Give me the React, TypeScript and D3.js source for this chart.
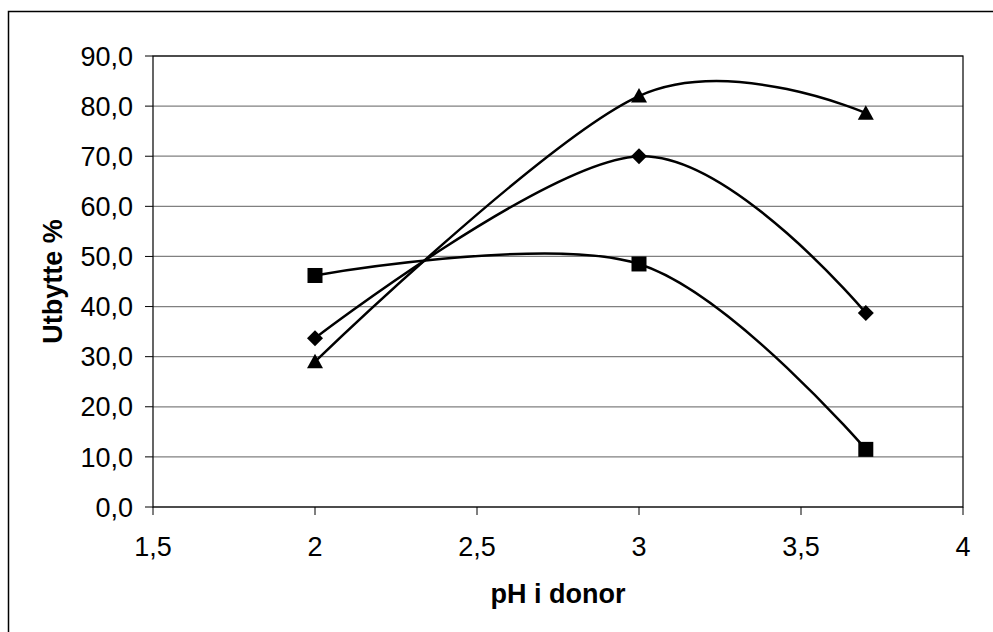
import React from "react";
import * as d3 from "d3";

const xValues = [2, 3, 3.7];
const seriesDiamond = [33.7, 70.0, 38.7];
const seriesSquare = [46.2, 48.5, 11.5];
const seriesTriangle = [29.0, 82.0, 78.6];
const yTicks = [0, 10, 20, 30, 40, 50, 60, 70, 80, 90];
const xTicks = [1.5, 2, 2.5, 3, 3.5, 4];
const xTitle = "pH i donor";
const yTitle = "Utbytte %";

const W = 993;
const H = 632;
const L = 153, R = 963, T = 56, B = 507;

const fmtY = (v: number) => v.toFixed(1).replace(".", ",");
const fmtX = (v: number) => String(v).replace(".", ",");

export default function App() {
  const x = d3.scaleLinear().domain([1.5, 4]).range([L, R]);
  const y = d3.scaleLinear().domain([0, 90]).range([B, T]);
  const line = d3
    .line<number>()
    .x((_, i) => x(xValues[i]))
    .y((d) => y(d))
    .curve(d3.curveCardinal.tension(0));

  const series = [
    { name: "diamond", values: seriesDiamond },
    { name: "square", values: seriesSquare },
    { name: "triangle", values: seriesTriangle },
  ];

  const marker = (kind: string, cx: number, cy: number, key: string) => {
    if (kind === "square") {
      return <rect key={key} x={cx - 7.5} y={cy - 7.5} width={15} height={15} fill="#000" />;
    }
    if (kind === "diamond") {
      const r = 8;
      return (
        <path key={key} d={`M${cx},${cy - r}L${cx + r},${cy}L${cx},${cy + r}L${cx - r},${cy}Z`} fill="#000" />
      );
    }
    return (
      <path key={key} d={`M${cx},${cy - 8}L${cx + 8},${cy + 6.5}L${cx - 8},${cy + 6.5}Z`} fill="#000" />
    );
  };

  return (
    <svg width={W} height={H} style={{ position: "absolute", left: 0, top: 0, background: "#fff" }}
      fontFamily="'Liberation Sans', Arial, sans-serif">
      <rect x={0} y={0} width={W} height={H} fill="#fff" />
      <rect x={8.5} y={11.5} width={1100} height={800} fill="none" stroke="#000" strokeWidth={1.5} />
      {yTicks.map((t) => (
        <g key={"y" + t}>
          <line x1={L} x2={R} y1={y(t)} y2={y(t)} stroke="#808080" strokeWidth={1.2} />
          <line x1={L - 8} x2={L} y1={y(t)} y2={y(t)} stroke="#000" strokeWidth={1} />
          <text x={133} y={y(t)} dy="0.36em" textAnchor="end" fontSize={27} fill="#000">
            {fmtY(t)}
          </text>
        </g>
      ))}
      {xTicks.map((t) => (
        <g key={"x" + t}>
          <line x1={x(t)} x2={x(t)} y1={B} y2={B + 8} stroke="#000" strokeWidth={1} />
          <text x={x(t)} y={556} textAnchor="middle" fontSize={27} fill="#000">
            {fmtX(t)}
          </text>
        </g>
      ))}
      <rect x={L} y={T} width={R - L} height={B - T} fill="none" stroke="#000" strokeWidth={1.2} />
      {series.map((s) => (
        <path key={s.name} d={line(s.values) || ""} fill="none" stroke="#000" strokeWidth={2.5} />
      ))}
      {series.map((s) =>
        s.values.map((v, i) => marker(s.name, x(xValues[i]), y(v), s.name + i))
      )}
      <text x={(L + R) / 2} y={603} textAnchor="middle" fontSize={27} fontWeight="bold" fill="#000">
        {xTitle}
      </text>
      <text transform={`translate(62,${(T + B) / 2}) rotate(-90)`} textAnchor="middle" fontSize={27}
        fontWeight="bold" fill="#000">
        {yTitle}
      </text>
    </svg>
  );
}
